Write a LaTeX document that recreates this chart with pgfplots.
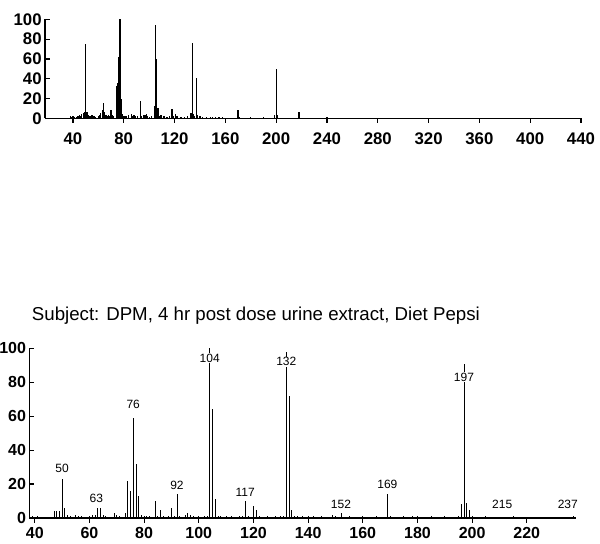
\documentclass[border=0pt]{standalone}
\usepackage{pgfplots}
\pgfplotsset{compat=1.18}
\usepackage{fontspec}
\setmainfont{Liberation Sans}

\pgfplotsset{
  ms/.style={
    scale only axis,
    axis lines=left,
    axis line style={-, line width=1.2pt},
    ymin=0, ymax=100,
    ytick={0,20,...,100},
    tick style={black, line width=0.9pt},
    major tick length=3.5pt,
    xtick align=outside,
    ytick align=inside,
    ticklabel style={font=\fontsize{12}{13}\selectfont\bfseries},
    yticklabel style={xshift=1pt},
    /pgf/number format/assume math mode=true,
    clip=false,
  },
}
\tikzset{pk/.style={font=\fontsize{9}{10}\selectfont, inner sep=0.6pt}}

\begin{document}
\begin{tikzpicture}
\path[use as bounding box] (0pt,0pt) rectangle (450pt,407.25pt);

% top spectrum
\begin{axis}[ms, at={(33.75pt,318.5pt)}, anchor=south west,
    width=402pt, height=74.25pt,
    xmin=18, xmax=440, xtick={40,80,...,440},
    ticklabel style={font=\fontsize{12.6}{13}\selectfont\bfseries},
    xticklabel style={yshift=-4pt}]
\addplot[ycomb, black, line width=0.9pt] coordinates {
 (38,2)(39,1)(40,2)(41,1)(43,1)(44,2)(45,3)(46,2)(47,4)(48,5)(49,6)(50,75)
 (51,6)(52,3)(53,2)(54,2)(55,3)(56,2)(57,2)(58,1)(60,2)(61,3)(62,5)(63,8)
 (64,15)(65,6)(66,3)(67,2)(68,3)(69,2)(70,8)(71,3)(72,2)(74,33)(75,36)(76,62)
 (77,100)(78,20)(79,4)(80,2)(81,2)(82,2)(84,3)(86,4)(87,2)(88,3)(89,2)(91,2)
 (93,18)(94,2)(96,3)(97,3)(98,4)(99,2)(100,1)(102,2)(104,12)(105,94)(106,60)
 (107,10)(108,2)(109,3)(110,3)(111,2)(112,2)(114,1)(116,2)(118,9)(119,2)
 (121,4)(122,2)(125,1)(128,1)(130,2)(133,5)(134,76)(135,4)(136,2)(137,41)
 (138,3)(140,2)(142,1)(145,1)(148,1)(150,1)(152,1)(155,1)(158,1)(170,8)
 (171,1)(180,1)(190,1)(199,3)(200,50)(201,3)(218,6)(240,1)
};
\end{axis}

\node[font=\fontsize{14}{16}\selectfont] at (191.9pt,170.25pt)
  {Subject: DPM, 4 hr post dose urine extract, Diet Pepsi};

% bottom spectrum
\begin{axis}[ms, at={(22pt,18.75pt)}, anchor=south west,
    width=410pt, height=127.3pt,
    xmin=38, xmax=238, xtick={40,60,...,220}]
\addplot[ycomb, black, line width=0.6pt] coordinates {
 (38,3)(39,1)(41,1)(47,4)(48,4)(49,4)(50,23)(51,6)(52,2)(53,1)(55,2)(56,1)
 (57,1)(60,1)(61,2)(62,2)(63,6)(64,6)(65,2)(66,1)(69,3)(70,2)(71,1)(73,3)
 (74,22)(75,16)(76,59)(77,32)(78,13)(79,2)(80,1)(81,1)(82,1)(84,10)(85,1)
 (86,5)(87,1)(89,1)(90,6)(91,1)(92,14)(93,1)(95,2)(96,3)(97,2)(98,1)(100,1)
 (102,1)(103,1)(104,100)(105,64)(106,11)(107,1)(108,1)(110,1)(112,1)(115,1)
 (116,1)(117,10)(118,1)(120,7)(121,5)(122,1)(125,1)(128,1)(130,1)(131,1)
 (132,98)(133,72)(134,5)(135,1)(136,1)(138,1)(140,1)(142,1)(145,1)(149,2)
 (150,1)(152,3)(155,1)(160,1)(165,1)(169,14)(170,1)(175,1)(178,1)(180,1)
 (185,1)(190,1)(195,1)(196,8)(197,91)(198,9)(199,5)(200,1)(205,1)(215,1)(237,1)
};
\node[pk] at (axis cs:50,29) {50};
\node[pk] at (axis cs:62.5,11.7) {63};
\node[pk] at (axis cs:76,67) {76};
\node[pk] at (axis cs:92,19.5) {92};
\node[pk, fill=white] at (axis cs:104,94) {104};
\node[pk] at (axis cs:117,15) {117};
\node[pk, fill=white] at (axis cs:132,92) {132};
\node[pk] at (axis cs:152,8.3) {152};
\node[pk] at (axis cs:169,20) {169};
\node[pk, fill=white] at (axis cs:197,83) {197};
\node[pk] at (axis cs:211,8.3) {215};
\node[pk] at (axis cs:235,8.3) {237};
\end{axis}
\end{tikzpicture}
\end{document}
